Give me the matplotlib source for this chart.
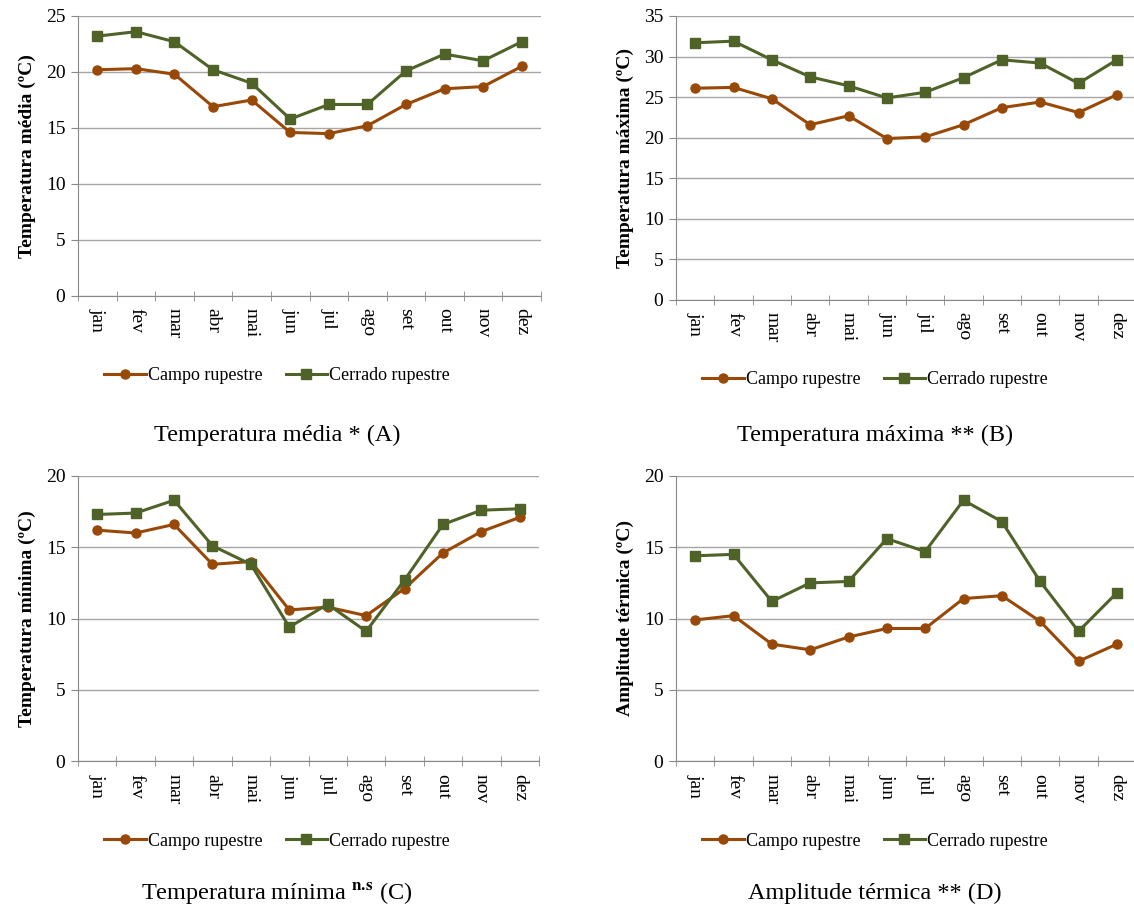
import matplotlib.pyplot as plt
import numpy as np

plt.rcParams['font.family'] = ['Liberation Serif', 'DejaVu Serif']
plt.rcParams['mathtext.fontset'] = 'stix'

meses = ['jan', 'fev', 'mar', 'abr', 'mai', 'jun', 'jul', 'ago', 'set', 'out', 'nov', 'dez']

# Temperatura média (A)
media_campo = [20.2, 20.3, 19.8, 16.9, 17.5, 14.6, 14.5, 15.2, 17.1, 18.5, 18.7, 20.5]
media_cerrado = [23.2, 23.6, 22.7, 20.2, 19.0, 15.8, 17.1, 17.1, 20.1, 21.6, 21.0, 22.7]

# Temperatura máxima (B)
maxima_campo = [26.1, 26.2, 24.8, 21.6, 22.7, 19.9, 20.1, 21.6, 23.7, 24.4, 23.1, 25.3]
maxima_cerrado = [31.7, 31.9, 29.6, 27.5, 26.4, 24.9, 25.6, 27.4, 29.6, 29.2, 26.7, 29.6]

# Temperatura mínima (C)
minima_campo = [16.2, 16.0, 16.6, 13.8, 14.0, 10.6, 10.8, 10.2, 12.1, 14.6, 16.1, 17.1]
minima_cerrado = [17.3, 17.4, 18.3, 15.1, 13.8, 9.4, 11.0, 9.1, 12.7, 16.6, 17.6, 17.7]

# Amplitude térmica (D)
amplitude_campo = [9.9, 10.2, 8.2, 7.8, 8.7, 9.3, 9.3, 11.4, 11.6, 9.8, 7.0, 8.2]
amplitude_cerrado = [14.4, 14.5, 11.2, 12.5, 12.6, 15.6, 14.7, 18.3, 16.8, 12.6, 9.1, 11.8]

COR_CAMPO = '#984807'
COR_CERRADO = '#4F6228'
W, H = 1134, 908


def painel(fig, rect, campo, cerrado, ymax, ylabel, titulo, leg_y, tit_y):
    l, t, r, b = rect
    ax = fig.add_axes([l / W, 1 - b / H, (r - l) / W, (b - t) / H])
    x = np.arange(len(meses))
    ax.plot(x, campo, color=COR_CAMPO, lw=2.2, marker='o', ms=6.5, label='Campo rupestre')
    ax.plot(x, cerrado, color=COR_CERRADO, lw=2.2, marker='s', ms=6.5, label='Cerrado rupestre')
    ax.set_xlim(-0.5, len(meses) - 0.5)
    ax.set_ylim(0, ymax)
    ax.set_yticks(np.arange(0, ymax + 1, 5))
    ax.set_xticks(x)
    ax.set_xticklabels(meses, rotation=-90, fontsize=14)
    ax.set_xticks(np.arange(-0.5, len(meses), 1), minor=True)
    ax.tick_params(axis='x', which='major', length=0, pad=9)
    ax.tick_params(axis='x', which='minor', length=7, color='#888888', direction='inout')
    ax.tick_params(axis='y', length=5, color='#888888', labelsize=14, pad=4)
    ax.grid(axis='y', color='#a6a6a6', lw=1)
    ax.set_axisbelow(True)
    for s in ['top', 'right']:
        ax.spines[s].set_visible(False)
    for s in ['left', 'bottom']:
        ax.spines[s].set_color('#888888')
    ax.set_ylabel(ylabel, fontsize=14, fontweight='bold', labelpad=7)
    cx = (l + 277 - 78) / W
    ax.legend(loc='center', bbox_to_anchor=(cx, 1 - leg_y / H),
              bbox_transform=fig.transFigure, ncol=2, frameon=False,
              fontsize=13, handlelength=2.3, handletextpad=0.1, columnspacing=1.3)
    fig.text(cx, 1 - tit_y / H, titulo, ha='center', va='center', fontsize=17.5)
    return ax


fig = plt.figure(figsize=(W / 100, H / 100), dpi=100)

painel(fig, (78, 16, 541, 296), media_campo, media_cerrado, 25,
       'Temperatura média (ºC)', 'Temperatura média * (A)', 376, 435)
painel(fig, (676, 16, 1136, 300), maxima_campo, maxima_cerrado, 35,
       'Temperatura máxima (ºC)', 'Temperatura máxima ** (B)', 380, 435)
painel(fig, (78, 476, 539, 761), minima_campo, minima_cerrado, 20,
       'Temperatura mínima (ºC)', r'Temperatura mínima $^{\mathbf{n}\mathbf{.}\!\mathbf{s}}$ (C)', 841, 893)
painel(fig, (676, 476, 1136, 761), amplitude_campo, amplitude_cerrado, 20,
       'Amplitude térmica (ºC)', 'Amplitude térmica ** (D)', 841, 893)

plt.savefig('out.png', dpi=100)
